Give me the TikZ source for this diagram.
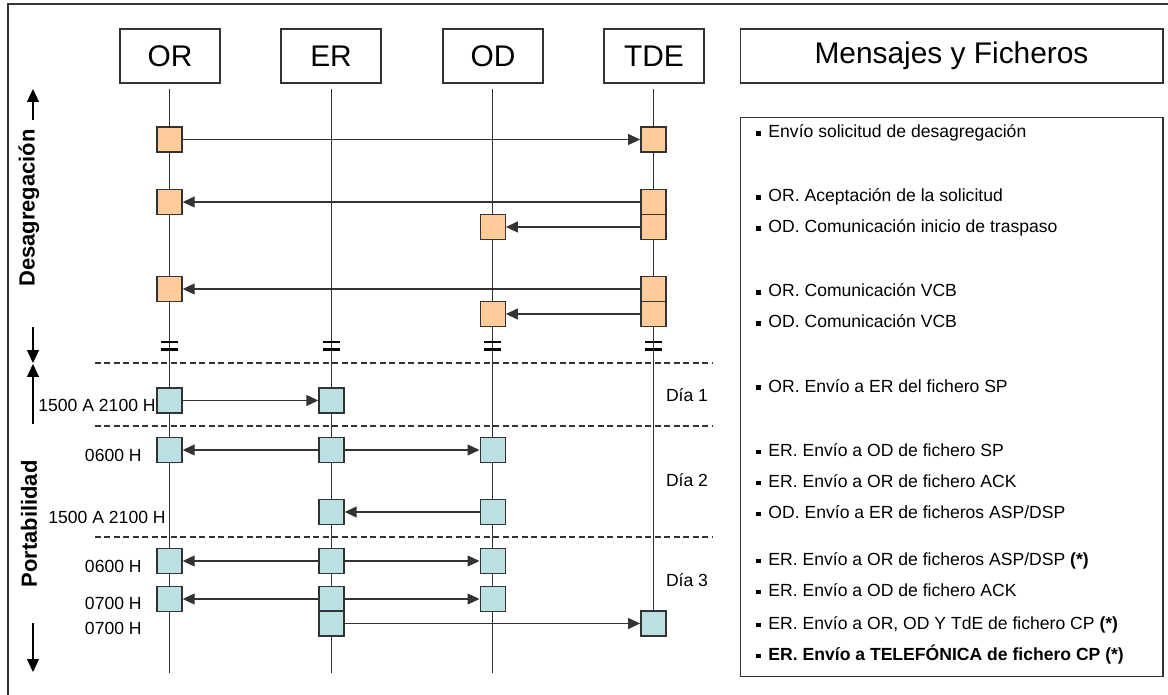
\documentclass[tikz,border=0pt]{standalone}
\usepackage{fontspec}
\setmainfont{Liberation Sans}
\usetikzlibrary{arrows.meta}

\definecolor{boxorange}{HTML}{FFCC99}
\definecolor{boxblue}{HTML}{BBE0E3}
\definecolor{linegray}{HTML}{333333}

\begin{document}
\begin{tikzpicture}[x=0.02cm, y=-0.02cm]

	\tikzstyle{actor} = [draw=linegray, line width=0.6pt, minimum width=2cm, minimum height=1.08cm, inner sep=0pt, font=\fontsize{17}{19}\selectfont]
	\tikzstyle{step_orange} = [draw=linegray, line width=0.8pt, fill=boxorange, minimum size=0.5cm, inner sep=0pt]
	\tikzstyle{step_blue} = [draw=linegray, line width=0.8pt, fill=boxblue, minimum size=0.5cm, inner sep=0pt]
	\tikzstyle{lifeline} = [draw=linegray, line width=0.65pt]
	\tikzstyle{msg} = [draw=linegray, line width=0.65pt, -{Triangle[length=0.24cm, width=0.22cm]}]
	\tikzstyle{phase_arrow} = [draw=black, line width=0.65pt, -{Triangle[length=0.26cm, width=0.24cm]}]
	\tikzstyle{day_sep} = [draw=linegray, line width=0.8pt, dash pattern=on 3.4pt off 2pt]
	\tikzstyle{break_mark} = [draw=black, line width=1.6pt]
	\tikzstyle{txt} = [inner sep=0pt, font=\fontsize{10}{12}\selectfont]
	\tikzstyle{phase} = [inner sep=0pt, rotate=90, font=\fontsize{12.5}{14}\selectfont\bfseries]

	\useasboundingbox (0,0) rectangle (1168,695);

%------------------------------------------------------------
	\coordinate (frame_bl) at (8,695);
	\coordinate (frame_tl) at (8,4);
	\coordinate (frame_tr) at (1168,4);
	\draw[linegray, line width=0.8pt] (frame_bl) -- (frame_tl) -- (frame_tr);

	\node[actor] (h_or)  at (170,56) {OR};
	\node[actor] (h_er)  at (331,56) {ER};
	\node[actor] (h_od)  at (493,56) {OD};
	\node[actor] (h_tde) at (654,56) {TDE};
	\node[actor, minimum width=8.46cm] (h_msg) at (951.5,56) {Mensajes y Ficheros};

	\coordinate (top_or)  at (169.5,89);
	\coordinate (top_er)  at (331.5,89);
	\coordinate (top_od)  at (492.7,89);
	\coordinate (top_tde) at (653.3,89);
	\coordinate (end_or)  at (169.5,673);
	\coordinate (end_er)  at (331.5,673);
	\coordinate (end_od)  at (492.7,673);

	\draw[lifeline] (top_or) -- (end_or);
	\draw[lifeline] (top_er) -- (end_er);
	\draw[lifeline] (top_od) -- (end_od);

%------------------------------------------------------------
	\draw[day_sep] (95,363) -- (712,363);
	\draw[day_sep] (95,426) -- (712,426);
	\draw[day_sep] (95,537) -- (712,537);

	\draw[break_mark] (161,342) -- (178,342) (161,349.5) -- (178,349.5);
	\draw[break_mark] (323,342) -- (340,342) (323,349.5) -- (340,349.5);
	\draw[break_mark] (484,342) -- (501,342) (484,349.5) -- (501,349.5);
	\draw[break_mark] (645,342) -- (662,342) (645,349.5) -- (662,349.5);

%------------------------------------------------------------
	\node[step_orange] (or1)   at (169.5,139.5) {};
	\node[step_orange] (tde1)  at (653.3,139.5) {};

	\node[step_orange] (or2)   at (169.5,202) {};
	\node[step_orange] (tde2a) at (653.3,202) {};
	\node[step_orange] (tde2b) at (653.3,227) {};
	\node[step_orange] (od2)   at (492.7,227) {};

	\node[step_orange] (or3)   at (169.5,289) {};
	\node[step_orange] (tde3a) at (653.3,289) {};
	\node[step_orange] (tde3b) at (653.3,314) {};
	\node[step_orange] (od3)   at (492.7,314) {};

%------------------------------------------------------------
	\node[step_blue] (or4) at (169.5,400.5) {};
	\node[step_blue] (er4) at (331.5,400.5) {};

	\node[step_blue] (or5) at (169.5,450) {};
	\node[step_blue] (er5) at (331.5,450) {};
	\node[step_blue] (od5) at (492.7,450) {};

	\node[step_blue] (er6) at (331.5,512) {};
	\node[step_blue] (od6) at (492.7,512) {};

	\node[step_blue] (or7) at (169.5,561) {};
	\node[step_blue] (er7) at (331.5,561) {};
	\node[step_blue] (od7) at (492.7,561) {};

	\node[step_blue] (or8) at (169.5,599) {};
	\node[step_blue] (er8) at (331.5,599) {};
	\node[step_blue] (od8) at (492.7,599) {};

	\node[step_blue] (er9)  at (331.5,623.5) {};
	\node[step_blue] (tde9) at (653.3,623.5) {};

	\draw[lifeline] (top_tde) -- (tde1);
	\draw[lifeline] (tde1) -- (tde2a);
	\draw[lifeline] (tde2b) -- (tde3a);
	\draw[lifeline] (tde3b) -- (tde9);

%------------------------------------------------------------
	\draw[msg] (or1) -- (tde1);
	\draw[msg] (tde2a) -- (or2);
	\draw[msg] (tde2b) -- (od2);
	\draw[msg] (tde3a) -- (or3);
	\draw[msg] (tde3b) -- (od3);

	\draw[msg] (or4) -- (er4);
	\draw[msg] (er5) -- (or5);
	\draw[msg] (er5) -- (od5);
	\draw[msg] (od6) -- (er6);
	\draw[msg] (er7) -- (or7);
	\draw[msg] (er7) -- (od7);
	\draw[msg] (er8) -- (or8);
	\draw[msg] (er8) -- (od8);
	\draw[msg] (er9) -- (tde9);

%------------------------------------------------------------
	\node[txt, anchor=east] (t1) at (156,405) {1500 A 2100 H};
	\node[txt, anchor=east] (t2) at (142,455) {0600 H};
	\node[txt, anchor=east] (t3) at (166,517) {1500 A 2100 H};
	\node[txt, anchor=east] (t4) at (142,566) {0600 H};
	\node[txt, anchor=east] (t5) at (142,603) {0700 H};
	\node[txt, anchor=east] (t6) at (142,628) {0700 H};

	\node[txt] (dia1) at (687,395) {Día 1};
	\node[txt] (dia2) at (687,480) {Día 2};
	\node[txt] (dia3) at (687,580) {Día 3};

%------------------------------------------------------------
	\node[phase] (desag) at (29,208) {Desagregación};
	\node[phase] (porta) at (29,524) {Portabilidad};

	\coordinate (da_up_s) at (33,120);
	\coordinate (da_up_e) at (33,89);
	\coordinate (da_dn_s) at (33,327);
	\coordinate (da_dn_e) at (33,363);
	\coordinate (po_up_s) at (33,424);
	\coordinate (po_up_e) at (33,364);
	\coordinate (po_dn_s) at (33,623);
	\coordinate (po_dn_e) at (33,672);
	\draw[phase_arrow] (da_up_s) -- (da_up_e);
	\draw[phase_arrow] (da_dn_s) -- (da_dn_e);
	\draw[phase_arrow] (po_up_s) -- (po_up_e);
	\draw[phase_arrow] (po_dn_s) -- (po_dn_e);

%------------------------------------------------------------
	\node[draw=linegray, line width=0.6pt, minimum width=8.46cm, minimum height=11.2cm] (msgbox) at (951.5,397) {};

	\tikzstyle{item} = [txt, anchor=base west]
	\newcommand{\blt}{\rule[1.3pt]{2.4pt}{2.4pt}\hspace{4.5pt}}

	\node[item] (m1)  at (756,138) {\blt Envío solicitud de desagregación};
	\node[item] (m2)  at (756,202) {\blt OR. Aceptación de la solicitud};
	\node[item] (m3)  at (756,233) {\blt OD. Comunicación inicio de traspaso};
	\node[item] (m4)  at (756,297) {\blt OR. Comunicación VCB};
	\node[item] (m5)  at (756,328) {\blt OD. Comunicación VCB};
	\node[item] (m6)  at (756,392) {\blt OR. Envío a ER del fichero SP};
	\node[item] (m7)  at (756,456) {\blt ER. Envío a OD de fichero SP};
	\node[item] (m8)  at (756,487) {\blt ER. Envío a OR de fichero ACK};
	\node[item] (m9)  at (756,518) {\blt OD. Envío a ER de ficheros ASP/DSP};
	\node[item] (m10) at (756,565) {\blt ER. Envío a OR de ficheros ASP/DSP \textbf{(*)}};
	\node[item] (m11) at (756,596) {\blt ER. Envío a OD de fichero ACK};
	\node[item] (m12) at (756,629) {\blt ER. Envío a OR, OD Y TdE de fichero CP \textbf{(*)}};
	\node[item] (m13) at (756,660) {\bfseries\blt ER. Envío a TELEFÓNICA de fichero CP (*)};

\end{tikzpicture}
\end{document}
